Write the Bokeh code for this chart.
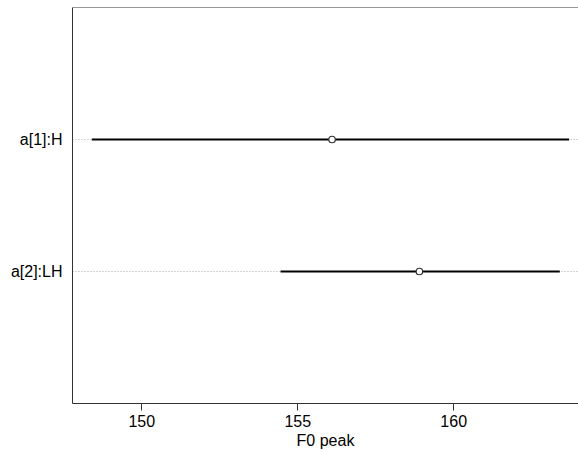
from bokeh.plotting import figure
from bokeh.models import Range1d, FixedTicker, Span
from bokeh.embed import file_html
from bokeh.resources import INLINE

# data
params = ["a[1]:H", "a[2]:LH"]
ypos = [2, 1]
est = [156.1, 158.9]
lower = [148.4, 154.45]
upper = [163.7, 163.4]
xticks = [150, 155, 160]

FONT = "Liberation Sans"

p = figure(width=578, height=451, output_backend="svg", toolbar_location=None,
           x_range=Range1d(147.78, 164.0), y_range=Range1d(0, 3),
           min_border_left=72, min_border_right=0, min_border_top=7, min_border_bottom=0)
p.outline_line_color = None
p.background_fill_color = "white"
p.border_fill_color = "white"

# top border of the frame
p.add_layout(Span(location=3, dimension="width", line_color="#333333", line_width=1))

p.xgrid.visible = False
p.ygrid.ticker = FixedTicker(ticks=ypos)
p.ygrid.grid_line_color = "#aaaaaa"
p.ygrid.grid_line_dash = "1 2"
p.ygrid.grid_line_width = 1

p.segment(x0=lower, y0=ypos, x1=upper, y1=ypos, line_color="black", line_width=2.2)
p.scatter(x=est, y=ypos, marker="circle", size=6.5, fill_color="white",
          line_color="#333333", line_width=1.2)

xa = p.xaxis[0]
xa.ticker = FixedTicker(ticks=xticks)
xa.axis_label = "F0 peak"
xa.axis_label_text_font = FONT
xa.axis_label_text_font_style = "normal"
xa.axis_label_text_font_size = "16px"
xa.axis_label_text_color = "black"
xa.axis_label_standoff = 2
xa.major_label_text_font = FONT
xa.major_label_text_font_size = "16px"
xa.major_label_text_color = "black"
xa.major_label_standoff = 4
xa.major_tick_out = 7
xa.major_tick_in = 0
xa.minor_tick_out = 0
xa.minor_tick_in = 0
xa.axis_line_color = "#333333"
xa.major_tick_line_color = "#333333"

ya = p.yaxis[0]
ya.ticker = FixedTicker(ticks=ypos)
ya.major_label_overrides = {y: s for y, s in zip(ypos, params)}
ya.major_label_text_font = FONT
ya.major_label_text_font_size = "16px"
ya.major_label_text_color = "black"
ya.major_label_standoff = 10
ya.major_tick_out = 0
ya.major_tick_in = 0
ya.minor_tick_out = 0
ya.minor_tick_in = 0
ya.axis_line_color = "#333333"

open("out.html", "w").write(file_html(p, INLINE))
